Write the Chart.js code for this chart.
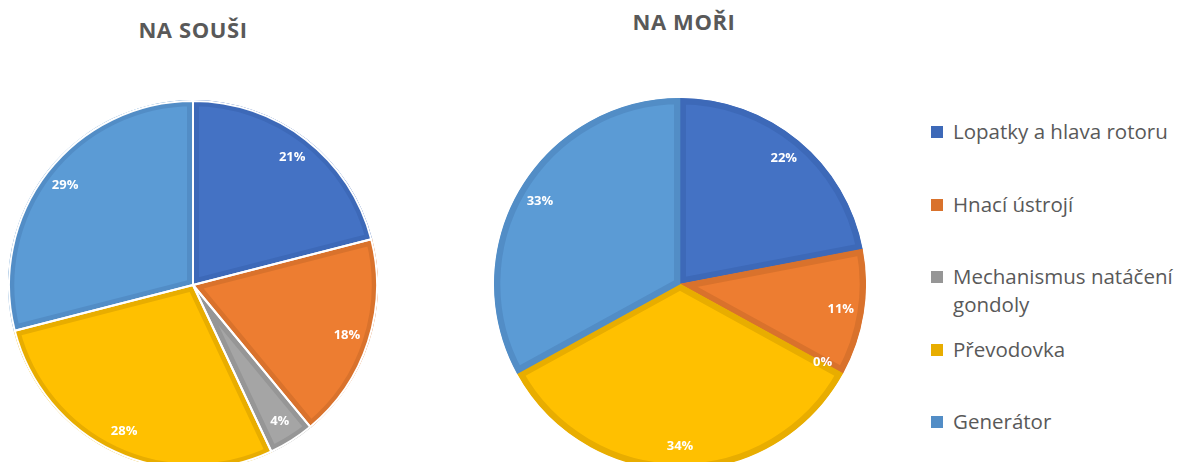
<!DOCTYPE html>
<html>
<head>
<meta charset="utf-8">
<script src="https://cdn.jsdelivr.net/npm/chart.js@4.4.0/dist/chart.umd.min.js"></script>
<style>
  html, body { margin:0; padding:0; background:#fff; width:1194px; height:462px; overflow:hidden; position:relative; font-family:"Open Sans", sans-serif; }
  .title { position:absolute; font-weight:bold; font-size:22px; color:#595959; text-align:center; width:300px; letter-spacing:0.6px; }
  .wrap { position:absolute; }
  #legend { position:absolute; left:931px; top:0; color:#595959; font-size:20.5px; }
  .item { position:absolute; left:0; white-space:nowrap; }
  .sw { position:absolute; left:0; width:12px; height:12px; }
  .txt { position:absolute; left:22px; line-height:28px; }
</style>
</head>
<body>
<div class="title" style="left:43px; top:14px;">NA SOUŠI</div>
<div class="title" style="left:534px; top:6px;">NA MOŘI</div>
<div class="wrap" style="left:8px; top:100px; width:370px; height:370px;"><canvas id="c1"></canvas></div>
<div class="wrap" style="left:8px; top:100px; width:370px; height:370px;"><canvas id="c1sep"></canvas></div>
<div class="wrap" style="left:494px; top:98px; width:372px; height:372px;"><canvas id="c2"></canvas></div>
<div id="legend"></div>
<script>
const categories = ["Lopatky a hlava rotoru", "Hnací ústrojí", "Mechanismus natáčení gondoly", "Převodovka", "Generátor"];
const legendLines = [["Lopatky a hlava rotoru"], ["Hnací ústrojí"], ["Mechanismus natáčení", "gondoly"], ["Převodovka"], ["Generátor"]];
const landValues = [21, 18, 4, 28, 29];
const seaValues = [22, 11, 0, 34, 33];
const titles = ["NA SOUŠI", "NA MOŘI"];
const fillColors = ["#4472C4", "#ED7D31", "#A5A5A5", "#FFC000", "#5B9BD5"];
const edgeColors = ["#3D69B8", "#D9722C", "#969696", "#E8AD00", "#528DC6"];

const labelPlugin = {
  id: 'pctLabels',
  afterDatasetsDraw(chart) {
    const ctx = chart.ctx;
    const meta = chart.getDatasetMeta(0);
    const data = chart.data.datasets[0].data;
    ctx.save();
    ctx.fillStyle = '#ffffff';
    ctx.font = 'bold 13px "Open Sans", sans-serif';
    ctx.textAlign = 'center';
    ctx.textBaseline = 'middle';
    meta.data.forEach((arc, i) => {
      const p = arc.getProps(['x','y','startAngle','endAngle','outerRadius'], true);
      const mid = (p.startAngle + p.endAngle) / 2;
      const r = p.outerRadius * 0.875;
      ctx.fillText(data[i] + '%', p.x + Math.cos(mid) * r, p.y + Math.sin(mid) * r);
    });
    ctx.restore();
  }
};

const baseOptions = {
  responsive: true,
  maintainAspectRatio: false,
  animation: false,
  layout: { padding: 0 },
  plugins: { legend: { display: false }, tooltip: { enabled: false }, title: { display: false } }
};

function makePie(id, values) {
  new Chart(document.getElementById(id), {
    type: 'pie',
    data: {
      labels: categories,
      datasets: [{
        data: values,
        backgroundColor: fillColors,
        borderColor: edgeColors,
        borderWidth: 6,
        borderAlign: 'inner'
      }]
    },
    options: baseOptions,
    plugins: [labelPlugin]
  });
}
function makeSeparators(id, values) {
  new Chart(document.getElementById(id), {
    type: 'pie',
    data: {
      labels: categories,
      datasets: [{
        data: values,
        backgroundColor: 'rgba(0,0,0,0)',
        borderColor: '#ffffff',
        borderWidth: 2,
        borderAlign: 'center'
      }]
    },
    options: baseOptions
  });
}
makePie('c1', landValues);
makeSeparators('c1sep', landValues);
makePie('c2', seaValues);

const legendTops = [117, 190, 262, 335, 407];
const leg = document.getElementById('legend');
legendLines.forEach((lines, i) => {
  const it = document.createElement('div');
  it.className = 'item';
  it.style.top = legendTops[i] + 'px';
  const sw = document.createElement('div');
  sw.className = 'sw';
  sw.style.background = edgeColors[i];
  sw.style.top = '9px';
  const tx = document.createElement('div');
  tx.className = 'txt';
  tx.innerHTML = lines.join('<br>');
  it.appendChild(sw); it.appendChild(tx);
  leg.appendChild(it);
});
</script>
</body>
</html>
